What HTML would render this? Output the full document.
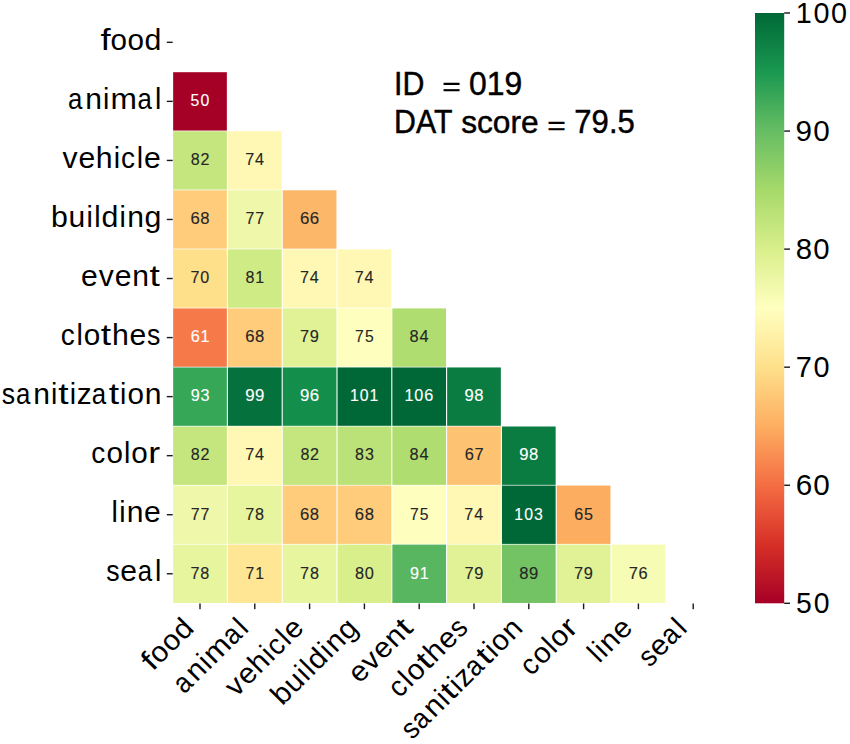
<!DOCTYPE html>
<html><head><meta charset="utf-8"><style>
html,body{margin:0;padding:0;background:#fff;}
body{width:850px;height:744px;overflow:hidden;}
svg{display:block;}
text{font-family:"Liberation Sans",sans-serif;}
</style></head><body>
<svg width="850" height="744" viewBox="0 0 850 744">
<rect width="850" height="744" fill="#fff"/>
<rect x="173.15" y="72.20" width="53.70" height="58.35" fill="#a50026"/>
<rect x="173.15" y="131.25" width="53.70" height="58.35" fill="#c5e67e"/>
<rect x="227.95" y="131.25" width="53.70" height="58.35" fill="#fff8b4"/>
<rect x="173.15" y="190.30" width="53.70" height="58.35" fill="#fecc7b"/>
<rect x="227.95" y="190.30" width="53.70" height="58.35" fill="#eff8aa"/>
<rect x="282.75" y="190.30" width="53.70" height="58.35" fill="#fdb768"/>
<rect x="173.15" y="249.35" width="53.70" height="58.35" fill="#fee08b"/>
<rect x="227.95" y="249.35" width="53.70" height="58.35" fill="#cfeb85"/>
<rect x="282.75" y="249.35" width="53.70" height="58.35" fill="#fff8b4"/>
<rect x="337.55" y="249.35" width="53.70" height="58.35" fill="#fff8b4"/>
<rect x="173.15" y="308.40" width="53.70" height="58.35" fill="#f67a49"/>
<rect x="227.95" y="308.40" width="53.70" height="58.35" fill="#fecc7b"/>
<rect x="282.75" y="308.40" width="53.70" height="58.35" fill="#e0f295"/>
<rect x="337.55" y="308.40" width="53.70" height="58.35" fill="#feffbe"/>
<rect x="392.35" y="308.40" width="53.70" height="58.35" fill="#afdd70"/>
<rect x="173.15" y="367.45" width="53.70" height="58.35" fill="#36a657"/>
<rect x="227.95" y="367.45" width="53.70" height="58.35" fill="#05713c"/>
<rect x="282.75" y="367.45" width="53.70" height="58.35" fill="#148e4b"/>
<rect x="337.55" y="367.45" width="53.70" height="58.35" fill="#006837"/>
<rect x="392.35" y="367.45" width="53.70" height="58.35" fill="#006837"/>
<rect x="447.15" y="367.45" width="53.70" height="58.35" fill="#0a7b41"/>
<rect x="173.15" y="426.50" width="53.70" height="58.35" fill="#c5e67e"/>
<rect x="227.95" y="426.50" width="53.70" height="58.35" fill="#fff8b4"/>
<rect x="282.75" y="426.50" width="53.70" height="58.35" fill="#c5e67e"/>
<rect x="337.55" y="426.50" width="53.70" height="58.35" fill="#bbe278"/>
<rect x="392.35" y="426.50" width="53.70" height="58.35" fill="#afdd70"/>
<rect x="447.15" y="426.50" width="53.70" height="58.35" fill="#fdc372"/>
<rect x="501.95" y="426.50" width="53.70" height="58.35" fill="#0a7b41"/>
<rect x="173.15" y="485.55" width="53.70" height="58.35" fill="#eff8aa"/>
<rect x="227.95" y="485.55" width="53.70" height="58.35" fill="#e8f59f"/>
<rect x="282.75" y="485.55" width="53.70" height="58.35" fill="#fecc7b"/>
<rect x="337.55" y="485.55" width="53.70" height="58.35" fill="#fecc7b"/>
<rect x="392.35" y="485.55" width="53.70" height="58.35" fill="#feffbe"/>
<rect x="447.15" y="485.55" width="53.70" height="58.35" fill="#fff8b4"/>
<rect x="501.95" y="485.55" width="53.70" height="58.35" fill="#006837"/>
<rect x="556.75" y="485.55" width="53.70" height="58.35" fill="#fdad60"/>
<rect x="173.15" y="544.60" width="53.70" height="58.35" fill="#e8f59f"/>
<rect x="227.95" y="544.60" width="53.70" height="58.35" fill="#fee695"/>
<rect x="282.75" y="544.60" width="53.70" height="58.35" fill="#e8f59f"/>
<rect x="337.55" y="544.60" width="53.70" height="58.35" fill="#d9ef8b"/>
<rect x="392.35" y="544.60" width="53.70" height="58.35" fill="#57b65f"/>
<rect x="447.15" y="544.60" width="53.70" height="58.35" fill="#e0f295"/>
<rect x="501.95" y="544.60" width="53.70" height="58.35" fill="#73c264"/>
<rect x="556.75" y="544.60" width="53.70" height="58.35" fill="#e0f295"/>
<rect x="611.55" y="544.60" width="53.70" height="58.35" fill="#f7fcb4"/>
<text transform="translate(190.07 106.18) scale(1.0007 1.0000)" x="0.45 10.34" font-size="15.84" fill="#ffffff" stroke="#ffffff" stroke-width="0.12">50</text>
<text transform="translate(190.41 165.24) scale(1.0169 1.0000)" x="0.43 9.91" font-size="15.84" fill="#262626" stroke="#262626" stroke-width="0.12">82</text>
<text transform="translate(244.75 165.24) scale(1.0189 1.0000)" x="0.39 10.08" font-size="15.84" fill="#262626" stroke="#262626" stroke-width="0.12">74</text>
<text transform="translate(190.14 224.28) scale(1.0530 1.0000)" x="0.26 9.61" font-size="15.84" fill="#262626" stroke="#262626" stroke-width="0.12">68</text>
<text transform="translate(244.99 224.28) scale(1.0071 1.0000)" x="0.45 10.22" font-size="15.84" fill="#262626" stroke="#262626" stroke-width="0.12">77</text>
<text transform="translate(299.70 224.28) scale(1.0655 1.0000)" x="0.21 9.44" font-size="15.84" fill="#262626" stroke="#262626" stroke-width="0.12">66</text>
<text transform="translate(190.03 283.33) scale(1.0186 1.0000)" x="0.39 10.08" font-size="15.84" fill="#262626" stroke="#262626" stroke-width="0.12">70</text>
<text transform="translate(245.13 283.33) scale(1.0132 1.0000)" x="0.45 10.08" font-size="15.84" fill="#262626" stroke="#262626" stroke-width="0.12">81</text>
<text transform="translate(299.55 283.33) scale(1.0189 1.0000)" x="0.39 10.08" font-size="15.84" fill="#262626" stroke="#262626" stroke-width="0.12">74</text>
<text transform="translate(354.35 283.33) scale(1.0189 1.0000)" x="0.39 10.08" font-size="15.84" fill="#262626" stroke="#262626" stroke-width="0.12">74</text>
<text transform="translate(190.32 342.38) scale(1.0258 1.0000)" x="0.39 9.90" font-size="15.84" fill="#ffffff" stroke="#ffffff" stroke-width="0.12">61</text>
<text transform="translate(244.94 342.38) scale(1.0530 1.0000)" x="0.26 9.61" font-size="15.84" fill="#262626" stroke="#262626" stroke-width="0.12">68</text>
<text transform="translate(299.67 342.38) scale(1.0354 1.0000)" x="0.31 9.80" font-size="15.84" fill="#262626" stroke="#262626" stroke-width="0.12">79</text>
<text transform="translate(354.59 342.38) scale(0.9890 1.0000)" x="0.54 10.46" font-size="15.84" fill="#262626" stroke="#262626" stroke-width="0.12">75</text>
<text transform="translate(409.26 342.38) scale(1.0349 1.0000)" x="0.35 9.85" font-size="15.84" fill="#262626" stroke="#262626" stroke-width="0.12">84</text>
<text transform="translate(190.29 401.44) scale(1.0255 1.0000)" x="0.34 10.01" font-size="15.84" fill="#ffffff" stroke="#ffffff" stroke-width="0.12">93</text>
<text transform="translate(245.01 401.44) scale(1.0634 1.0000)" x="0.17 9.43" font-size="15.84" fill="#ffffff" stroke="#ffffff" stroke-width="0.12">99</text>
<text transform="translate(299.75 401.44) scale(1.0644 1.0000)" x="0.17 9.46" font-size="15.84" fill="#ffffff" stroke="#ffffff" stroke-width="0.12">96</text>
<text transform="translate(349.50 401.44) scale(0.9998 1.0000)" x="0.44 10.36 20.12" font-size="15.84" fill="#ffffff" stroke="#ffffff" stroke-width="0.12">101</text>
<text transform="translate(404.08 401.44) scale(1.0271 1.0000)" x="0.30 9.96 19.54" font-size="15.84" fill="#ffffff" stroke="#ffffff" stroke-width="0.12">106</text>
<text transform="translate(464.19 401.44) scale(1.0519 1.0000)" x="0.22 9.62" font-size="15.84" fill="#ffffff" stroke="#ffffff" stroke-width="0.12">98</text>
<text transform="translate(190.41 460.49) scale(1.0169 1.0000)" x="0.43 9.91" font-size="15.84" fill="#262626" stroke="#262626" stroke-width="0.12">82</text>
<text transform="translate(244.75 460.49) scale(1.0189 1.0000)" x="0.39 10.08" font-size="15.84" fill="#262626" stroke="#262626" stroke-width="0.12">74</text>
<text transform="translate(300.01 460.49) scale(1.0169 1.0000)" x="0.43 9.91" font-size="15.84" fill="#262626" stroke="#262626" stroke-width="0.12">82</text>
<text transform="translate(354.65 460.49) scale(1.0145 1.0000)" x="0.44 10.16" font-size="15.84" fill="#262626" stroke="#262626" stroke-width="0.12">83</text>
<text transform="translate(409.26 460.49) scale(1.0349 1.0000)" x="0.35 9.85" font-size="15.84" fill="#262626" stroke="#262626" stroke-width="0.12">84</text>
<text transform="translate(464.28 460.49) scale(1.0365 1.0000)" x="0.34 9.80" font-size="15.84" fill="#262626" stroke="#262626" stroke-width="0.12">67</text>
<text transform="translate(518.99 460.49) scale(1.0519 1.0000)" x="0.22 9.62" font-size="15.84" fill="#ffffff" stroke="#ffffff" stroke-width="0.12">98</text>
<text transform="translate(190.19 519.53) scale(1.0071 1.0000)" x="0.45 10.22" font-size="15.84" fill="#262626" stroke="#262626" stroke-width="0.12">77</text>
<text transform="translate(244.85 519.53) scale(1.0241 1.0000)" x="0.37 10.00" font-size="15.84" fill="#262626" stroke="#262626" stroke-width="0.12">78</text>
<text transform="translate(299.74 519.53) scale(1.0530 1.0000)" x="0.26 9.61" font-size="15.84" fill="#262626" stroke="#262626" stroke-width="0.12">68</text>
<text transform="translate(354.54 519.53) scale(1.0530 1.0000)" x="0.26 9.61" font-size="15.84" fill="#262626" stroke="#262626" stroke-width="0.12">68</text>
<text transform="translate(409.39 519.53) scale(0.9890 1.0000)" x="0.54 10.46" font-size="15.84" fill="#262626" stroke="#262626" stroke-width="0.12">75</text>
<text transform="translate(463.95 519.53) scale(1.0189 1.0000)" x="0.39 10.08" font-size="15.84" fill="#262626" stroke="#262626" stroke-width="0.12">74</text>
<text transform="translate(513.82 519.53) scale(1.0011 1.0000)" x="0.43 10.34 20.19" font-size="15.84" fill="#ffffff" stroke="#ffffff" stroke-width="0.12">103</text>
<text transform="translate(573.88 519.53) scale(1.0179 1.0000)" x="0.43 10.03" font-size="15.84" fill="#262626" stroke="#262626" stroke-width="0.12">65</text>
<text transform="translate(190.05 578.58) scale(1.0241 1.0000)" x="0.37 10.00" font-size="15.84" fill="#262626" stroke="#262626" stroke-width="0.12">78</text>
<text transform="translate(245.03 578.58) scale(0.9955 1.0000)" x="0.50 10.34" font-size="15.84" fill="#262626" stroke="#262626" stroke-width="0.12">71</text>
<text transform="translate(299.65 578.58) scale(1.0241 1.0000)" x="0.37 10.00" font-size="15.84" fill="#262626" stroke="#262626" stroke-width="0.12">78</text>
<text transform="translate(354.53 578.58) scale(1.0350 1.0000)" x="0.35 9.85" font-size="15.84" fill="#262626" stroke="#262626" stroke-width="0.12">80</text>
<text transform="translate(409.56 578.58) scale(1.0247 1.0000)" x="0.35 9.92" font-size="15.84" fill="#ffffff" stroke="#ffffff" stroke-width="0.12">91</text>
<text transform="translate(464.07 578.58) scale(1.0354 1.0000)" x="0.31 9.80" font-size="15.84" fill="#262626" stroke="#262626" stroke-width="0.12">79</text>
<text transform="translate(518.97 578.58) scale(1.0519 1.0000)" x="0.27 9.58" font-size="15.84" fill="#262626" stroke="#262626" stroke-width="0.12">89</text>
<text transform="translate(573.67 578.58) scale(1.0354 1.0000)" x="0.31 9.80" font-size="15.84" fill="#262626" stroke="#262626" stroke-width="0.12">79</text>
<text transform="translate(628.41 578.58) scale(1.0365 1.0000)" x="0.31 9.83" font-size="15.84" fill="#262626" stroke="#262626" stroke-width="0.12">76</text>
<text transform="translate(100.40 49.53) scale(1 1.0000)" font-size="28.67" fill="#000"><tspan x="0.12" textLength="10.17" lengthAdjust="spacingAndGlyphs">f</tspan><tspan x="10.11" textLength="16.48" lengthAdjust="spacingAndGlyphs">o</tspan><tspan x="27.16" textLength="16.48" lengthAdjust="spacingAndGlyphs">o</tspan><tspan x="44.18" textLength="16.85" lengthAdjust="spacingAndGlyphs">d</tspan></text>
<rect x="166.80" y="41.62" width="5.90" height="1.40" fill="#1a1a1a"/>
<text transform="translate(67.60 108.57) scale(1 1.0000)" font-size="28.67" fill="#000"><tspan x="0.39" textLength="14.35" lengthAdjust="spacingAndGlyphs">a</tspan><tspan x="17.61" textLength="16.71" lengthAdjust="spacingAndGlyphs">n</tspan><tspan x="35.46" textLength="6.33" lengthAdjust="spacingAndGlyphs">i</tspan><tspan x="42.91" textLength="26.45" lengthAdjust="spacingAndGlyphs">m</tspan><tspan x="70.02" textLength="14.35" lengthAdjust="spacingAndGlyphs">a</tspan><tspan x="87.42" textLength="6.33" lengthAdjust="spacingAndGlyphs">l</tspan></text>
<rect x="166.80" y="100.67" width="5.90" height="1.40" fill="#1a1a1a"/>
<text transform="translate(61.68 167.62) scale(1 1.0000)" font-size="28.67" fill="#000"><tspan x="0.73" textLength="15.04" lengthAdjust="spacingAndGlyphs">v</tspan><tspan x="16.75" textLength="16.74" lengthAdjust="spacingAndGlyphs">e</tspan><tspan x="34.07" textLength="16.83" lengthAdjust="spacingAndGlyphs">h</tspan><tspan x="52.02" textLength="6.33" lengthAdjust="spacingAndGlyphs">i</tspan><tspan x="59.40" textLength="13.98" lengthAdjust="spacingAndGlyphs">c</tspan><tspan x="75.08" textLength="6.33" lengthAdjust="spacingAndGlyphs">l</tspan><tspan x="82.37" textLength="16.74" lengthAdjust="spacingAndGlyphs">e</tspan></text>
<rect x="166.80" y="159.73" width="5.90" height="1.40" fill="#1a1a1a"/>
<text transform="translate(50.37 226.67) scale(1 1.0000)" font-size="28.67" fill="#000"><tspan x="0.58" textLength="16.86" lengthAdjust="spacingAndGlyphs">b</tspan><tspan x="18.11" textLength="16.71" lengthAdjust="spacingAndGlyphs">u</tspan><tspan x="36.08" textLength="6.33" lengthAdjust="spacingAndGlyphs">i</tspan><tspan x="43.80" textLength="6.33" lengthAdjust="spacingAndGlyphs">l</tspan><tspan x="51.11" textLength="16.85" lengthAdjust="spacingAndGlyphs">d</tspan><tspan x="69.25" textLength="6.33" lengthAdjust="spacingAndGlyphs">i</tspan><tspan x="76.81" textLength="16.71" lengthAdjust="spacingAndGlyphs">n</tspan><tspan x="94.21" textLength="16.85" lengthAdjust="spacingAndGlyphs">g</tspan></text>
<rect x="166.80" y="218.78" width="5.90" height="1.40" fill="#1a1a1a"/>
<text transform="translate(80.83 285.72) scale(1 1.0000)" font-size="28.67" fill="#000"><tspan x="0.26" textLength="16.74" lengthAdjust="spacingAndGlyphs">e</tspan><tspan x="17.87" textLength="15.04" lengthAdjust="spacingAndGlyphs">v</tspan><tspan x="33.90" textLength="16.74" lengthAdjust="spacingAndGlyphs">e</tspan><tspan x="51.32" textLength="16.71" lengthAdjust="spacingAndGlyphs">n</tspan><tspan x="68.64" textLength="10.35" lengthAdjust="spacingAndGlyphs">t</tspan></text>
<rect x="166.80" y="277.82" width="5.90" height="1.40" fill="#1a1a1a"/>
<text transform="translate(60.49 344.77) scale(1 1.0000)" font-size="28.67" fill="#000"><tspan x="0.35" textLength="13.98" lengthAdjust="spacingAndGlyphs">c</tspan><tspan x="16.03" textLength="6.33" lengthAdjust="spacingAndGlyphs">l</tspan><tspan x="23.36" textLength="16.48" lengthAdjust="spacingAndGlyphs">o</tspan><tspan x="40.30" textLength="10.35" lengthAdjust="spacingAndGlyphs">t</tspan><tspan x="51.48" textLength="16.83" lengthAdjust="spacingAndGlyphs">h</tspan><tspan x="68.97" textLength="16.74" lengthAdjust="spacingAndGlyphs">e</tspan><tspan x="86.62" textLength="13.36" lengthAdjust="spacingAndGlyphs">s</tspan></text>
<rect x="166.80" y="336.88" width="5.90" height="1.40" fill="#1a1a1a"/>
<text transform="translate(1.08 403.82) scale(1 1.0000)" font-size="28.67" fill="#000"><tspan x="0.77" textLength="13.36" lengthAdjust="spacingAndGlyphs">s</tspan><tspan x="14.91" textLength="14.35" lengthAdjust="spacingAndGlyphs">a</tspan><tspan x="32.13" textLength="16.71" lengthAdjust="spacingAndGlyphs">n</tspan><tspan x="49.98" textLength="6.33" lengthAdjust="spacingAndGlyphs">i</tspan><tspan x="57.19" textLength="10.35" lengthAdjust="spacingAndGlyphs">t</tspan><tspan x="68.65" textLength="6.33" lengthAdjust="spacingAndGlyphs">i</tspan><tspan x="75.66" textLength="14.93" lengthAdjust="spacingAndGlyphs">z</tspan><tspan x="90.69" textLength="14.35" lengthAdjust="spacingAndGlyphs">a</tspan><tspan x="107.57" textLength="10.35" lengthAdjust="spacingAndGlyphs">t</tspan><tspan x="119.03" textLength="6.33" lengthAdjust="spacingAndGlyphs">i</tspan><tspan x="126.35" textLength="16.48" lengthAdjust="spacingAndGlyphs">o</tspan><tspan x="143.64" textLength="16.71" lengthAdjust="spacingAndGlyphs">n</tspan></text>
<rect x="166.80" y="395.93" width="5.90" height="1.40" fill="#1a1a1a"/>
<text transform="translate(90.86 462.88) scale(1 1.0000)" font-size="28.67" fill="#000"><tspan x="0.35" textLength="13.98" lengthAdjust="spacingAndGlyphs">c</tspan><tspan x="15.62" textLength="16.48" lengthAdjust="spacingAndGlyphs">o</tspan><tspan x="33.08" textLength="6.33" lengthAdjust="spacingAndGlyphs">l</tspan><tspan x="40.41" textLength="16.48" lengthAdjust="spacingAndGlyphs">o</tspan><tspan x="57.33" textLength="11.89" lengthAdjust="spacingAndGlyphs">r</tspan></text>
<rect x="166.80" y="454.98" width="5.90" height="1.40" fill="#1a1a1a"/>
<text transform="translate(110.68 521.92) scale(1 1.0000)" font-size="28.67" fill="#000"><tspan x="0.71" textLength="6.33" lengthAdjust="spacingAndGlyphs">l</tspan><tspan x="8.46" textLength="6.33" lengthAdjust="spacingAndGlyphs">i</tspan><tspan x="16.02" textLength="16.71" lengthAdjust="spacingAndGlyphs">n</tspan><tspan x="33.41" textLength="16.74" lengthAdjust="spacingAndGlyphs">e</tspan></text>
<rect x="166.80" y="514.02" width="5.90" height="1.40" fill="#1a1a1a"/>
<text transform="translate(105.59 580.98) scale(1 1.0000)" font-size="28.67" fill="#000"><tspan x="0.77" textLength="13.36" lengthAdjust="spacingAndGlyphs">s</tspan><tspan x="14.78" textLength="16.74" lengthAdjust="spacingAndGlyphs">e</tspan><tspan x="32.05" textLength="14.35" lengthAdjust="spacingAndGlyphs">a</tspan><tspan x="49.45" textLength="6.33" lengthAdjust="spacingAndGlyphs">l</tspan></text>
<rect x="166.80" y="573.07" width="5.90" height="1.40" fill="#1a1a1a"/>
<rect x="199.30" y="603.50" width="1.40" height="5.70" fill="#1a1a1a"/>
<text transform="scale(1.0110 1) translate(150.80 672.05) rotate(-45)" font-size="28.67" fill="#000"><tspan x="0.12" textLength="9.97" lengthAdjust="spacingAndGlyphs">f</tspan><tspan x="9.91" textLength="16.16" lengthAdjust="spacingAndGlyphs">o</tspan><tspan x="26.64" textLength="16.16" lengthAdjust="spacingAndGlyphs">o</tspan><tspan x="43.34" textLength="16.53" lengthAdjust="spacingAndGlyphs">d</tspan></text>
<rect x="254.10" y="603.50" width="1.40" height="5.70" fill="#1a1a1a"/>
<text transform="scale(1.0110 1) translate(182.21 694.83) rotate(-45)" font-size="28.67" fill="#000"><tspan x="0.23" textLength="14.35" lengthAdjust="spacingAndGlyphs">a</tspan><tspan x="17.28" textLength="16.39" lengthAdjust="spacingAndGlyphs">n</tspan><tspan x="34.79" textLength="6.21" lengthAdjust="spacingAndGlyphs">i</tspan><tspan x="42.09" textLength="25.95" lengthAdjust="spacingAndGlyphs">m</tspan><tspan x="68.54" textLength="14.35" lengthAdjust="spacingAndGlyphs">a</tspan><tspan x="85.76" textLength="6.21" lengthAdjust="spacingAndGlyphs">l</tspan></text>
<rect x="308.90" y="603.50" width="1.40" height="5.70" fill="#1a1a1a"/>
<text transform="scale(1.0110 1) translate(233.09 698.17) rotate(-45)" font-size="28.67" fill="#000"><tspan x="0.71" textLength="14.75" lengthAdjust="spacingAndGlyphs">v</tspan><tspan x="16.43" textLength="16.42" lengthAdjust="spacingAndGlyphs">e</tspan><tspan x="33.43" textLength="16.51" lengthAdjust="spacingAndGlyphs">h</tspan><tspan x="51.03" textLength="6.21" lengthAdjust="spacingAndGlyphs">i</tspan><tspan x="58.27" textLength="13.72" lengthAdjust="spacingAndGlyphs">c</tspan><tspan x="73.65" textLength="6.21" lengthAdjust="spacingAndGlyphs">l</tspan><tspan x="80.81" textLength="16.42" lengthAdjust="spacingAndGlyphs">e</tspan></text>
<rect x="363.70" y="603.50" width="1.40" height="5.70" fill="#1a1a1a"/>
<text transform="scale(1.0110 1) translate(278.71 706.75) rotate(-45)" font-size="28.67" fill="#000"><tspan x="0.57" textLength="16.54" lengthAdjust="spacingAndGlyphs">b</tspan><tspan x="17.76" textLength="16.39" lengthAdjust="spacingAndGlyphs">u</tspan><tspan x="35.39" textLength="6.21" lengthAdjust="spacingAndGlyphs">i</tspan><tspan x="42.97" textLength="6.21" lengthAdjust="spacingAndGlyphs">l</tspan><tspan x="50.13" textLength="16.53" lengthAdjust="spacingAndGlyphs">d</tspan><tspan x="67.94" textLength="6.21" lengthAdjust="spacingAndGlyphs">i</tspan><tspan x="75.35" textLength="16.39" lengthAdjust="spacingAndGlyphs">n</tspan><tspan x="92.41" textLength="16.53" lengthAdjust="spacingAndGlyphs">g</tspan></text>
<rect x="418.50" y="603.50" width="1.40" height="5.70" fill="#1a1a1a"/>
<text transform="scale(1.0110 1) translate(355.29 684.37) rotate(-45)" font-size="28.67" fill="#000"><tspan x="0.25" textLength="16.42" lengthAdjust="spacingAndGlyphs">e</tspan><tspan x="17.53" textLength="14.75" lengthAdjust="spacingAndGlyphs">v</tspan><tspan x="33.25" textLength="16.42" lengthAdjust="spacingAndGlyphs">e</tspan><tspan x="50.35" textLength="16.39" lengthAdjust="spacingAndGlyphs">n</tspan><tspan x="67.33" textLength="10.15" lengthAdjust="spacingAndGlyphs">t</tspan></text>
<rect x="473.30" y="603.50" width="1.40" height="5.70" fill="#1a1a1a"/>
<text transform="scale(1.0110 1) translate(394.92 698.94) rotate(-45)" font-size="28.67" fill="#000"><tspan x="0.34" textLength="13.72" lengthAdjust="spacingAndGlyphs">c</tspan><tspan x="15.72" textLength="6.21" lengthAdjust="spacingAndGlyphs">l</tspan><tspan x="22.92" textLength="16.16" lengthAdjust="spacingAndGlyphs">o</tspan><tspan x="39.54" textLength="10.15" lengthAdjust="spacingAndGlyphs">t</tspan><tspan x="50.50" textLength="16.51" lengthAdjust="spacingAndGlyphs">h</tspan><tspan x="67.66" textLength="16.42" lengthAdjust="spacingAndGlyphs">e</tspan><tspan x="84.98" textLength="13.10" lengthAdjust="spacingAndGlyphs">s</tspan></text>
<rect x="528.10" y="603.50" width="1.40" height="5.70" fill="#1a1a1a"/>
<text transform="scale(1.0110 1) translate(407.23 740.84) rotate(-45)" font-size="28.67" fill="#000"><tspan x="0.75" textLength="13.10" lengthAdjust="spacingAndGlyphs">s</tspan><tspan x="14.48" textLength="14.35" lengthAdjust="spacingAndGlyphs">a</tspan><tspan x="31.52" textLength="16.39" lengthAdjust="spacingAndGlyphs">n</tspan><tspan x="49.03" textLength="6.21" lengthAdjust="spacingAndGlyphs">i</tspan><tspan x="56.10" textLength="10.15" lengthAdjust="spacingAndGlyphs">t</tspan><tspan x="67.35" textLength="6.21" lengthAdjust="spacingAndGlyphs">i</tspan><tspan x="74.22" textLength="14.65" lengthAdjust="spacingAndGlyphs">z</tspan><tspan x="88.82" textLength="14.35" lengthAdjust="spacingAndGlyphs">a</tspan><tspan x="105.52" textLength="10.15" lengthAdjust="spacingAndGlyphs">t</tspan><tspan x="116.77" textLength="6.21" lengthAdjust="spacingAndGlyphs">i</tspan><tspan x="123.95" textLength="16.16" lengthAdjust="spacingAndGlyphs">o</tspan><tspan x="140.91" textLength="16.39" lengthAdjust="spacingAndGlyphs">n</tspan></text>
<rect x="582.90" y="603.50" width="1.40" height="5.70" fill="#1a1a1a"/>
<text transform="scale(1.0110 1) translate(525.35 676.92) rotate(-45)" font-size="28.67" fill="#000"><tspan x="0.34" textLength="13.72" lengthAdjust="spacingAndGlyphs">c</tspan><tspan x="15.32" textLength="16.16" lengthAdjust="spacingAndGlyphs">o</tspan><tspan x="32.45" textLength="6.21" lengthAdjust="spacingAndGlyphs">l</tspan><tspan x="39.64" textLength="16.16" lengthAdjust="spacingAndGlyphs">o</tspan><tspan x="56.24" textLength="11.67" lengthAdjust="spacingAndGlyphs">r</tspan></text>
<rect x="637.70" y="603.50" width="1.40" height="5.70" fill="#1a1a1a"/>
<text transform="scale(1.0110 1) translate(592.27 664.20) rotate(-45)" font-size="28.67" fill="#000"><tspan x="0.69" textLength="6.21" lengthAdjust="spacingAndGlyphs">l</tspan><tspan x="8.30" textLength="6.21" lengthAdjust="spacingAndGlyphs">i</tspan><tspan x="15.72" textLength="16.39" lengthAdjust="spacingAndGlyphs">n</tspan><tspan x="32.77" textLength="16.42" lengthAdjust="spacingAndGlyphs">e</tspan></text>
<rect x="692.50" y="603.50" width="1.40" height="5.70" fill="#1a1a1a"/>
<text transform="scale(1.0110 1) translate(642.18 668.50) rotate(-45)" font-size="28.67" fill="#000"><tspan x="0.75" textLength="13.10" lengthAdjust="spacingAndGlyphs">s</tspan><tspan x="14.50" textLength="16.42" lengthAdjust="spacingAndGlyphs">e</tspan><tspan x="31.30" textLength="14.35" lengthAdjust="spacingAndGlyphs">a</tspan><tspan x="48.51" textLength="6.21" lengthAdjust="spacingAndGlyphs">l</tspan></text>
<defs><linearGradient id="cb" x1="0" y1="1" x2="0" y2="0"><stop offset="0.000" stop-color="#a50026"/><stop offset="0.100" stop-color="#d73027"/><stop offset="0.200" stop-color="#f46d43"/><stop offset="0.300" stop-color="#fdae61"/><stop offset="0.400" stop-color="#fee08b"/><stop offset="0.500" stop-color="#ffffbf"/><stop offset="0.600" stop-color="#d9ef8b"/><stop offset="0.700" stop-color="#a6d96a"/><stop offset="0.800" stop-color="#66bd63"/><stop offset="0.900" stop-color="#1a9850"/><stop offset="1.000" stop-color="#006837"/></linearGradient></defs>
<rect x="755.00" y="13.00" width="29.20" height="590.30" fill="url(#cb)"/>
<rect x="784.20" y="602.60" width="5.80" height="1.40" fill="#1a1a1a"/>
<text transform="translate(795.11 613.30) scale(1.0007 1.0400)" x="0.80 18.52" font-size="28.36" fill="#000">50</text>
<rect x="784.20" y="484.54" width="5.80" height="1.40" fill="#1a1a1a"/>
<text transform="translate(795.10 495.24) scale(1.0472 1.0400)" x="0.52 17.35" font-size="28.36" fill="#000">60</text>
<rect x="784.20" y="366.48" width="5.80" height="1.40" fill="#1a1a1a"/>
<text transform="translate(795.11 377.18) scale(1.0186 1.0400)" x="0.70 18.06" font-size="28.36" fill="#000">70</text>
<rect x="784.20" y="248.42" width="5.80" height="1.40" fill="#1a1a1a"/>
<text transform="translate(795.09 259.12) scale(1.0350 1.0400)" x="0.62 17.64" font-size="28.36" fill="#000">80</text>
<rect x="784.20" y="130.36" width="5.80" height="1.40" fill="#1a1a1a"/>
<text transform="translate(795.09 141.06) scale(1.0461 1.0400)" x="0.45 17.37" font-size="28.36" fill="#000">90</text>
<rect x="784.20" y="12.30" width="5.80" height="1.40" fill="#1a1a1a"/>
<text transform="translate(795.10 23.00) scale(1.0151 1.0400)" x="0.65 18.14 35.50" font-size="28.36" fill="#000">100</text>
<text transform="translate(394.09 94.50) scale(1.0016 1.1000)" font-size="30.30" fill="#000" stroke="#000" stroke-width="0.43">ID</text>
<text transform="translate(469.02 94.50) scale(1.0532 1.1000)" font-size="30.30" fill="#000" stroke="#000" stroke-width="0.42">019</text>
<text transform="translate(394.10 132.80) scale(0.9992 1.1000)" font-size="30.30" fill="#000" stroke="#000" stroke-width="0.43">DAT</text>
<text transform="translate(461.13 132.80) scale(1.0464 1.0450)" font-size="30.30" fill="#000" stroke="#000" stroke-width="0.43">score</text>
<text transform="translate(574.37 132.80) scale(1.0244 1.1000)" font-size="30.30" fill="#000" stroke="#000" stroke-width="0.42">79.5</text>
<text transform="translate(442.21 95.01) scale(1.0479 0.8289)" font-size="30.30" fill="#000" stroke="#000" stroke-width="0.42">=</text>
<text transform="translate(547.21 133.61) scale(1.0479 0.8289)" font-size="30.30" fill="#000" stroke="#000" stroke-width="0.42">=</text>
</svg>
</body></html>
